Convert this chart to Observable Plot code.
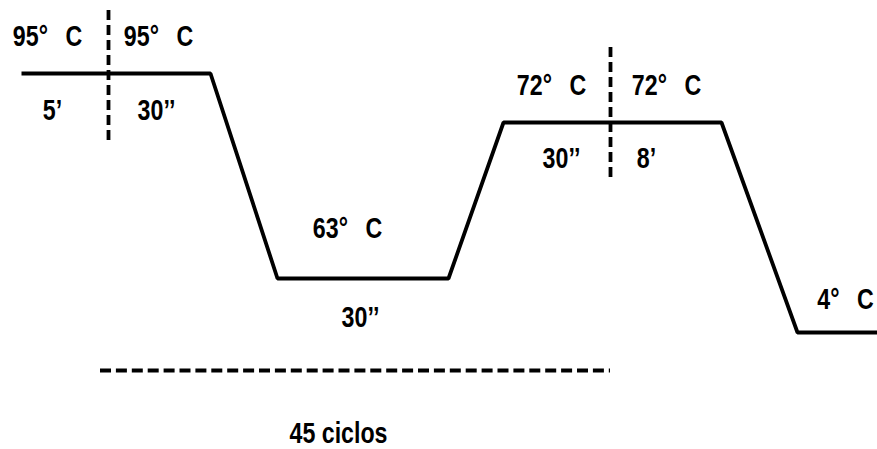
<!DOCTYPE html>
<html>
<head>
<meta charset="utf-8">
<script src="https://cdn.jsdelivr.net/npm/d3@7"></script>
<script src="https://cdn.jsdelivr.net/npm/@observablehq/plot@0.6"></script>
<style>
  html, body { margin: 0; padding: 0; background: #fff; }
  svg text { font-family: "Liberation Sans", Arial, sans-serif; font-weight: bold; }
</style>
</head>
<body>
<div id="chart"></div>
<script>
// Schematic PCR thermal profile (time position, level on schematic)
const profileTime  = [21, 210, 277, 448, 503, 721, 797, 877];
const profileLevel = [73, 73, 278, 278, 122, 122, 332, 332];

// Step separators (dashed verticals)
const sepTime   = [108, 610];
const sepTop    = [10, 47];
const sepBottom = [142, 182];

// Cycle bracket (dashed horizontal)
const cycleStart = 100, cycleEnd = 610, cycleLevel = 370;

// Labels
const labelText  = ["95°\u00a0\u00a0\u2009C", "95°\u00a0\u00a0\u2009C", "5’", "30’’", "63°\u00a0\u00a0\u2009C", "30’’", "72°\u00a0\u00a0\u2009C", "72°\u00a0\u00a0\u2009C", "30’’", "8’", "4°\u00a0\u00a0\u2009C", "45 ciclos"];
const labelTime  = [47, 158, 52, 156, 347, 360, 551, 666, 561, 646, 845, 338];
const labelLevel = [36, 36, 110, 110, 228, 317, 85, 85, 158, 158, 299, 433];

const profile = profileTime.map((t, i) => ({t, v: profileLevel[i]}));
const seps = sepTime.map((t, i) => ({t, y1: sepTop[i], y2: sepBottom[i]}));
const labels = labelText.map((s, i) => ({s, t: labelTime[i], v: labelLevel[i]}));

const chart = Plot.plot({
  width: 877,
  height: 449,
  margin: 0,
  x: {domain: [0, 877], range: [0, 877], axis: null},
  y: {domain: [0, 449], range: [0, 449], axis: null},
  marks: [
    Plot.line(profile, {x: "t", y: "v", stroke: "#000", strokeWidth: 3.8, strokeLinejoin: "miter", strokeLinecap: "butt"}),
    Plot.ruleX(seps, {x: "t", y1: "y1", y2: "y2", stroke: "#000", strokeWidth: 3.8, strokeDasharray: "10,5"}),
    Plot.ruleY([cycleLevel], {x1: cycleStart, x2: cycleEnd, stroke: "#000", strokeWidth: 4, strokeDasharray: "11,4.9"}),
    Plot.text(labels, {x: "t", y: "v", text: "s", fontSize: 29, fill: "#000", fontWeight: "bold", textAnchor: "middle"})
  ]
});
document.getElementById("chart").appendChild(chart);

// condense the bold labels horizontally (narrow look of the original)
d3.select(chart).selectAll("text").each(function() {
  const bb = this.getBBox();
  const cx = bb.x + bb.width / 2;
  const prev = this.getAttribute("transform") || "";
  this.setAttribute("transform", `${prev} translate(${cx},0) scale(0.8,1) translate(${-cx},0)`);
});
</script>
</body>
</html>
